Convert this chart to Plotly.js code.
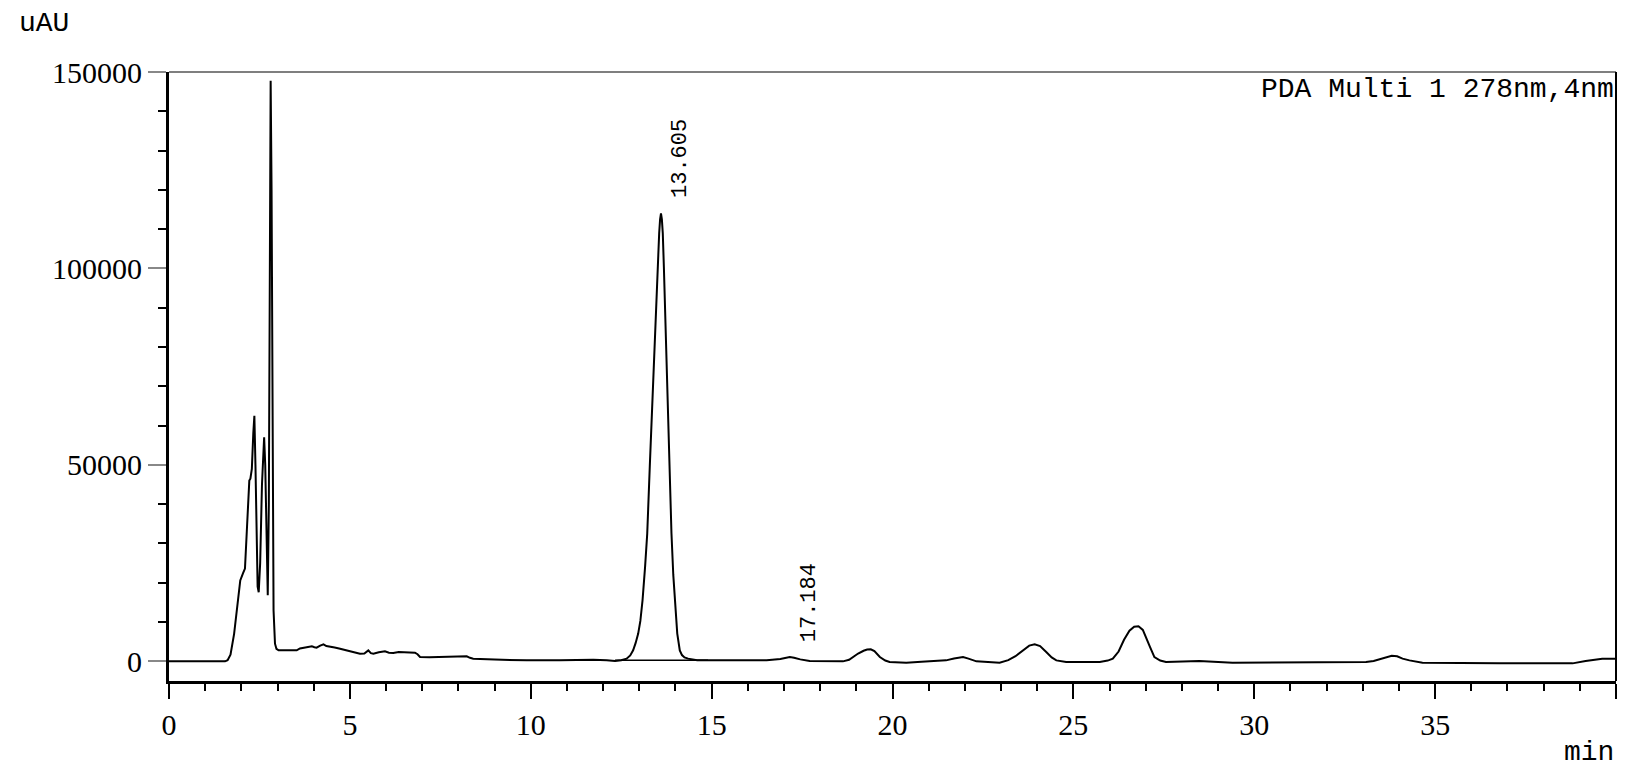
<!DOCTYPE html>
<html>
<head>
<meta charset="utf-8">
<script src="https://cdn.plot.ly/plotly-3.0.1.min.js"></script>
<style>
  html, body { margin: 0; padding: 0; background: #ffffff; }
  #chart { width: 1644px; height: 771px; }
</style>
</head>
<body>
<div id="chart"></div>
<script>
// Retention time (min) and detector signal (uAU)
const timeMin = [
  0, 1.0, 1.55, 1.62, 1.70, 1.80, 1.90, 1.97, 2.05, 2.10, 2.15, 2.20, 2.22, 2.25, 2.29, 2.33, 2.36, 2.39, 2.42, 2.45, 2.48,
  2.52, 2.57, 2.63, 2.66, 2.69, 2.73, 2.76, 2.785, 2.81, 2.835, 2.86, 2.89, 2.93, 2.97, 3.03,
  3.30, 3.53, 3.62, 3.72, 3.85, 3.95, 4.02, 4.08, 4.18, 4.27, 4.35, 4.45, 4.58, 4.73, 4.87, 5.00,
  5.15, 5.28, 5.40, 5.51, 5.58, 5.65, 5.80, 5.97, 6.08, 6.20, 6.35, 6.48, 6.65, 6.80, 6.87, 6.94,
  7.20, 7.68, 8.00, 8.23, 8.32, 8.41, 9.00, 9.89, 10.80, 11.73, 12.10, 12.33, 12.50, 12.65, 12.75,
  12.83, 12.90, 12.97, 13.03, 13.09, 13.16, 13.22, 13.29, 13.36, 13.43, 13.48, 13.52, 13.55, 13.575, 13.60,
  13.625, 13.65, 13.68, 13.73, 13.78, 13.83, 13.89, 13.94, 13.98, 14.05, 14.12, 14.18, 14.25, 14.35, 14.60,
  15.00, 15.80, 16.52, 16.90, 17.05, 17.16, 17.28, 17.45, 17.71, 18.30, 18.63, 18.80, 18.91, 19.05, 19.20,
  19.30, 19.40, 19.50, 19.65, 19.80, 19.92, 20.38, 20.80, 21.12, 21.48, 21.70, 21.85, 21.95, 22.10, 22.32, 22.96,
  23.20, 23.40, 23.60, 23.78, 23.93, 24.08, 24.25, 24.40, 24.53, 24.80, 25.73, 25.95, 26.09, 26.25,
  26.40, 26.55, 26.68, 26.80, 26.92, 27.03, 27.12, 27.24, 27.40, 27.56, 28.48, 29.40, 31.25, 33.09, 33.30,
  33.46, 33.65, 33.80, 33.95, 34.10, 34.29, 34.65, 36.77, 38.80, 39.16, 39.40, 39.62, 39.90, 40.0
];
const signalUAU = [
  0, 0, 0, 300, 1700, 7000, 15000, 20600, 22500, 23600, 33000, 45500, 46000, 46500, 49000, 58000, 62500, 50000, 30000, 19000, 17600,
  25000, 45000, 57000, 50000, 30000, 16800, 40000, 120000, 147800, 120000, 45000, 13000, 4500, 3200, 2800,
  2700, 2800, 3300, 3480, 3600, 3820, 3600, 3480, 4000, 4330, 3900, 3650, 3500, 3230, 2900, 2630,
  2100, 1950, 2000, 2800, 2100, 1950, 2300, 2550, 2200, 2120, 2350, 2290, 2200, 2210, 1800, 1100,
  1050, 1100, 1200, 1270, 900, 680, 450, 260, 300, 430, 260, 80, 300, 680, 1500,
  2800, 4700, 7060, 10300, 15540, 24000, 32520, 49490, 66480, 83460, 94000, 100430, 108930, 112500, 114040,
  112500, 108930, 100430, 83460, 66480, 49490, 32520, 22000, 15540, 7060, 2800, 1600, 1000, 690, 300,
  250, 250, 250, 600, 900, 1100, 900, 500, 100, 50, 0, 400, 1100, 2000, 2700,
  3000, 3060, 2600, 1100, 200, -170, -340, -100, 0, 250, 700, 1050, 1100, 700, 0, -340,
  300, 1300, 2800, 4000, 4330, 3900, 2380, 1000, 250, -170, -170, 200, 680, 2500,
  5500, 7800, 8800, 8910, 8000, 5800, 3600, 1100, 200, -170, 80, -340, -340, -170, 100,
  510, 1150, 1440, 1300, 700, 250, -340, -510, -510, 80, 450, 680, 680, 680
];
// Integration baseline drawn under the main peak
const baseX = [12.33, 14.9];
const baseY = [250, 250];

// Axis ticks
const xTickVals = [0, 5, 10, 15, 20, 25, 30, 35, 40];
const xTickText = ['0', '5', '10', '15', '20', '25', '30', '35', ''];
const yTickVals = [0, 50000, 100000, 150000];
const yTickText = ['0', '50000', '100000', '150000'];

// Peak labels
const peakTimes = [13.605, 17.184];
const peakLabels = ['13.605', '17.184'];
const peakLabelY = [128100, 14900];

const traces = [
  {
    x: timeMin, y: signalUAU, type: 'scatter', mode: 'lines',
    line: { color: '#000000', width: 2 }, hoverinfo: 'skip', showlegend: false
  },
  {
    x: baseX, y: baseY, type: 'scatter', mode: 'lines',
    line: { color: '#000000', width: 1.5 }, hoverinfo: 'skip', showlegend: false
  }
];

const annotations = peakTimes.map((t, i) => ({
  x: t + 0.52, y: peakLabelY[i], xref: 'x', yref: 'y',
  text: peakLabels[i], textangle: -90, showarrow: false,
  xanchor: 'center', yanchor: 'middle',
  font: { family: 'Liberation Mono, monospace', size: 22, color: '#000000' }
}));
annotations.push({
  x: 1, y: 0.972, xref: 'paper', yref: 'paper', xanchor: 'right', yanchor: 'middle',
  text: 'PDA Multi 1 278nm,4nm', showarrow: false,
  font: { family: 'Liberation Mono, monospace', size: 28, color: '#000000' }
});
annotations.push({
  x: -0.105, y: 1.08, xref: 'paper', yref: 'paper', xanchor: 'left', yanchor: 'middle',
  text: 'uAU', showarrow: false,
  font: { family: 'Liberation Mono, monospace', size: 28, color: '#000000' }
});
annotations.push({
  x: 1, y: -0.1166, xref: 'paper', yref: 'paper', xanchor: 'right', yanchor: 'middle',
  text: 'min', showarrow: false,
  font: { family: 'Liberation Mono, monospace', size: 28, color: '#000000' }
});

const layout = {
  width: 1644, height: 771,
  margin: { l: 169, r: 28, t: 72, b: 90, pad: 0 },
  paper_bgcolor: '#ffffff', plot_bgcolor: '#ffffff',
  showlegend: false,
  xaxis: {
    range: [0, 40], showgrid: false, zeroline: false,
    showline: true, linecolor: '#000000', linewidth: 3,
    tickmode: 'array', tickvals: xTickVals, ticktext: xTickText,
    ticks: 'outside', ticklen: 15, tickwidth: 2, tickcolor: '#000000',
    tickfont: { family: 'Liberation Serif, serif', size: 30, color: '#000000' },
    minor: { tickmode: 'linear', tick0: 0, dtick: 1, ticks: 'outside', ticklen: 7, tickwidth: 2, tickcolor: '#000000', showgrid: false }
  },
  yaxis: {
    range: [-5000, 150000], showgrid: false, zeroline: false,
    showline: true, linecolor: '#000000', linewidth: 3,
    tickmode: 'array', tickvals: yTickVals, ticktext: yTickText,
    ticks: 'outside', ticklen: 18, tickwidth: 2, tickcolor: '#888888',
    tickfont: { family: 'Liberation Serif, serif', size: 30, color: '#000000' },
    minor: { tickmode: 'linear', tick0: 0, dtick: 10000, ticks: 'outside', ticklen: 8, tickwidth: 2, tickcolor: '#000000', showgrid: false }
  },
  shapes: [
    { type: 'line', xref: 'paper', yref: 'paper', x0: 0, x1: 1, y0: 1, y1: 1, line: { color: '#7f7f7f', width: 2 } },
    { type: 'line', xref: 'paper', yref: 'paper', x0: 1, x1: 1, y0: 0, y1: 1, line: { color: '#000000', width: 2 } }
  ],
  annotations: annotations
};

Plotly.newPlot('chart', traces, layout, { displayModeBar: false, staticPlot: true });
</script>
</body>
</html>
